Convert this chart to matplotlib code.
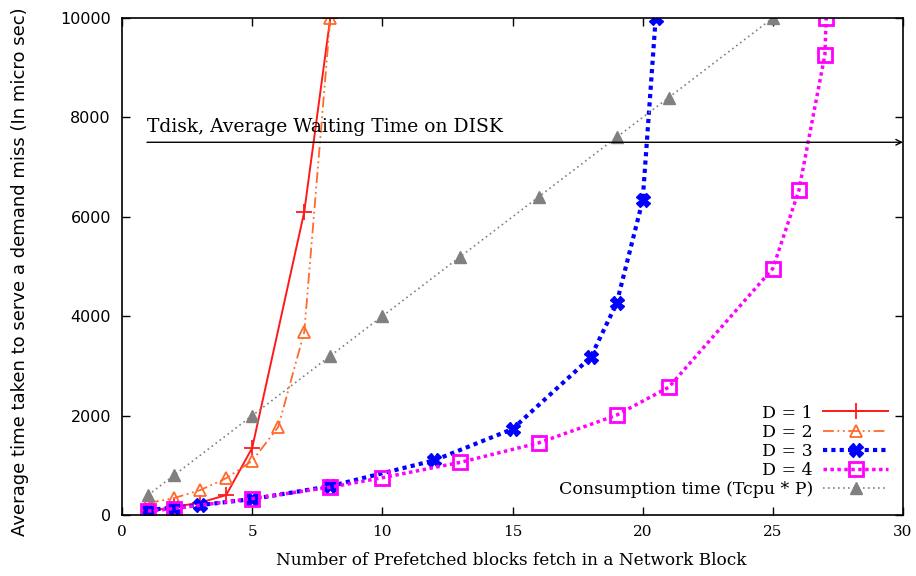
import numpy as np
import matplotlib
matplotlib.use("Agg")
import matplotlib.pyplot as plt

# data
x_d1 = [1, 2, 3, 4, 5, 7, 8]
y_d1 = [80, 160, 250, 400, 1350, 6100, 10000]

x_d2 = [1, 2, 3, 4, 5, 6, 7, 8]
y_d2 = [240, 340, 500, 740, 1090, 1770, 3680, 10000]

x_d3 = [1, 2, 3, 5, 8, 12, 15, 18, 19, 20, 20.5]
y_d3 = [100, 150, 200, 320, 580, 1100, 1730, 3170, 4260, 6330, 10000]

x_d4 = [1, 2, 5, 8, 10, 13, 16, 19, 21, 25, 26, 27, 27.05]
y_d4 = [80, 130, 330, 560, 750, 1060, 1450, 2010, 2570, 4960, 6530, 9260, 10000]

x_cons = [1, 2, 5, 8, 10, 13, 16, 19, 21, 25]
y_cons = [400, 800, 2000, 3200, 4000, 5200, 6400, 7600, 8400, 10000]

tdisk = 7500
tdisk_start = 0.96
tdisk_label = "Tdisk, Average Waiting Time on DISK"

labels = ["D = 1", "D = 2", "D = 3", "D = 4", "Consumption time (Tcpu * P)"]
xticks = [0, 5, 10, 15, 20, 25, 30]
yticks = [0, 2000, 4000, 6000, 8000, 10000]

serif = ["DejaVu Serif"]

fig = plt.figure(figsize=(9.16, 5.76), dpi=100)
ax = fig.add_axes([0.1332, 0.1059, 0.8526, 0.8628])

ax.plot(x_d1, y_d1, color="#ff1a1a", lw=1.4, marker="+", ms=11, mew=1.3,
        label=labels[0])
ax.plot(x_d2, y_d2, color="#ff6a2a", lw=1.3, ls=(0, (6, 2, 1, 2, 1, 2)),
        marker="^", ms=8, mfc="none", mew=1.3, label=labels[1])
ax.plot(x_d3, y_d3, color="#0000ff", lw=3, ls=(0, (1, 1)),
        marker="X", ms=10, label=labels[2])
ax.plot(x_d4, y_d4, color="#ff00ff", lw=2.5, ls=(0, (1, 1)),
        marker="s", ms=10, mfc="none", mew=2, label=labels[3])
ax.plot(x_cons, y_cons, color="#808080", lw=1.2, ls=(0, (1, 2)),
        marker="^", ms=8, label=labels[4])

# Tdisk arrow
ax.annotate("", xy=(30, tdisk), xytext=(tdisk_start, tdisk),
            arrowprops=dict(arrowstyle="->", color="black", lw=1,
                            shrinkA=0, shrinkB=0))
ax.text(tdisk_start, tdisk + 120, tdisk_label, family=serif,
        fontsize=13.5, ha="left", va="bottom")

ax.set_xlim(0, 30)
ax.set_ylim(0, 10000)
ax.set_xticks(xticks)
ax.set_yticks(yticks)
ax.tick_params(direction="in", top=True, right=True, length=6, width=1)
for t in ax.get_xticklabels():
    t.set_family(serif)
    t.set_fontsize(11)
for t in ax.get_yticklabels():
    t.set_fontsize(11.5)
ax.tick_params(axis="x", pad=7)
ax.tick_params(axis="y", pad=8)
for s in ax.spines.values():
    s.set_linewidth(1.2)

ax.set_xlabel("Number of Prefetched blocks fetch in a Network Block",
              family=serif, fontsize=12.2)
ax.set_ylabel("Average time taken to serve a demand miss (In micro sec)",
              fontsize=13)
ax.xaxis.set_label_coords(0.498, -0.075)
ax.yaxis.set_label_coords(-0.119, 0.49)

leg = ax.legend(loc="lower right", bbox_to_anchor=(0.996, 0.01),
                markerfirst=False, frameon=False, handlelength=3.7,
                prop={"family": serif, "size": 12.5}, labelspacing=0.12,
                handletextpad=0.6, borderaxespad=0.3)

fig.savefig("out.png", dpi=100)
